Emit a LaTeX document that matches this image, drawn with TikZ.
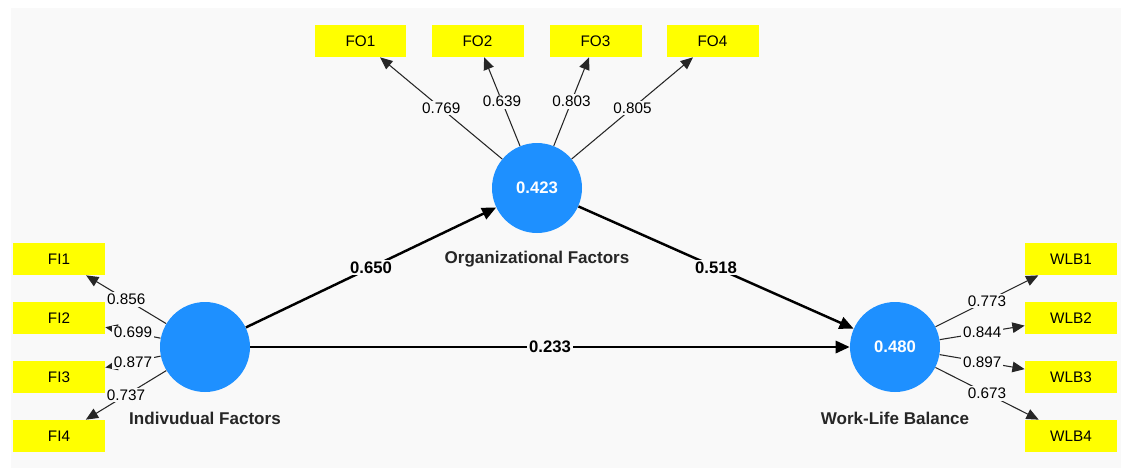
\documentclass[tikz,border=0pt]{standalone}
\usepackage{fontspec}
\setmainfont{Liberation Sans}
\usetikzlibrary{arrows.meta}
\definecolor{bgray}{RGB}{249,249,249}
\definecolor{lvblue}{RGB}{30,144,255}
\definecolor{mvyellow}{RGB}{255,255,0}
\tikzset{
  lv/.style={circle,fill=lvblue,minimum size=1.8cm,inner sep=0pt,text=white,font=\fontsize{9.5}{11}\selectfont\bfseries},
  mv/.style={fill=mvyellow,minimum width=1.84cm,minimum height=0.64cm,inner sep=0pt,font=\fontsize{8.7}{10}\selectfont},
  lvname/.style={font=\fontsize{9.7}{12}\selectfont\bfseries,text=black!85},
  load/.style={draw=black!85,line width=0.6pt,-{Triangle[length=7pt,width=6pt]}},
  struct/.style={draw=black,line width=1.4pt,-{Triangle[length=8pt,width=7pt]}},
  loadlbl/.style={fill=bgray,inner sep=1pt,font=\fontsize{8.7}{10}\selectfont},
  coef/.style={fill=bgray,inner sep=1pt,font=\fontsize{9.5}{11}\selectfont\bfseries}
}

\begin{document}
\begin{tikzpicture}[x=0.02cm,y=-0.02cm]
    \useasboundingbox (0,0) rectangle (1121,468);
    \fill[bgray] (11,8) rectangle (1121,468);
    % latent variables
    \node[lv] (IF) at (205,347) {};
    \node[lv] (OF) at (537,188) {0.423};
    \node[lv] (WLB) at (895,347) {0.480};
    \node[lvname] (IFname) at (205,418) {Indivudual Factors};
    \node[lvname] (OFname) at (537,259) {Organizational Factors};
    \node[lvname] (WLBname) at (895,418) {Work-Life Balance};
    % indicators
    \node[mv] (FI1) at (59,259) {FI1};
    \node[mv] (FI2) at (59,318) {FI2};
    \node[mv] (FI3) at (59,377) {FI3};
    \node[mv] (FI4) at (59,436) {FI4};
    \node[mv] (FO1) at (360.5,41) {FO1};
    \node[mv] (FO2) at (477.5,41) {FO2};
    \node[mv] (FO3) at (595.5,41) {FO3};
    \node[mv] (FO4) at (712.5,41) {FO4};
    \node[mv] (WLB1) at (1071,259) {WLB1};
    \node[mv] (WLB2) at (1071,318) {WLB2};
    \node[mv] (WLB3) at (1071,377) {WLB3};
    \node[mv] (WLB4) at (1071,436) {WLB4};
    % outer loadings
    \draw[load] (IF) -- node[loadlbl]{0.856} (FI1);
    \draw[load] (IF) -- node[loadlbl]{0.699} (FI2);
    \draw[load] (IF) -- node[loadlbl]{0.877} (FI3);
    \draw[load] (IF) -- node[loadlbl]{0.737} (FI4);
    \draw[load] (OF) -- node[loadlbl]{0.769} (FO1);
    \draw[load] (OF) -- node[loadlbl]{0.639} (FO2);
    \draw[load] (OF) -- node[loadlbl]{0.803} (FO3);
    \draw[load] (OF) -- node[loadlbl]{0.805} (FO4);
    \draw[load] (WLB) -- node[loadlbl]{0.773} (WLB1);
    \draw[load] (WLB) -- node[loadlbl]{0.844} (WLB2);
    \draw[load] (WLB) -- node[loadlbl]{0.897} (WLB3);
    \draw[load] (WLB) -- node[loadlbl]{0.673} (WLB4);
    % path coefficients
    \draw[struct] (IF) -- node[coef]{0.650} (OF);
    \draw[struct] (OF) -- node[coef]{0.518} (WLB);
    \draw[struct] (IF) -- node[coef]{0.233} (WLB);
\end{tikzpicture}
\end{document}
